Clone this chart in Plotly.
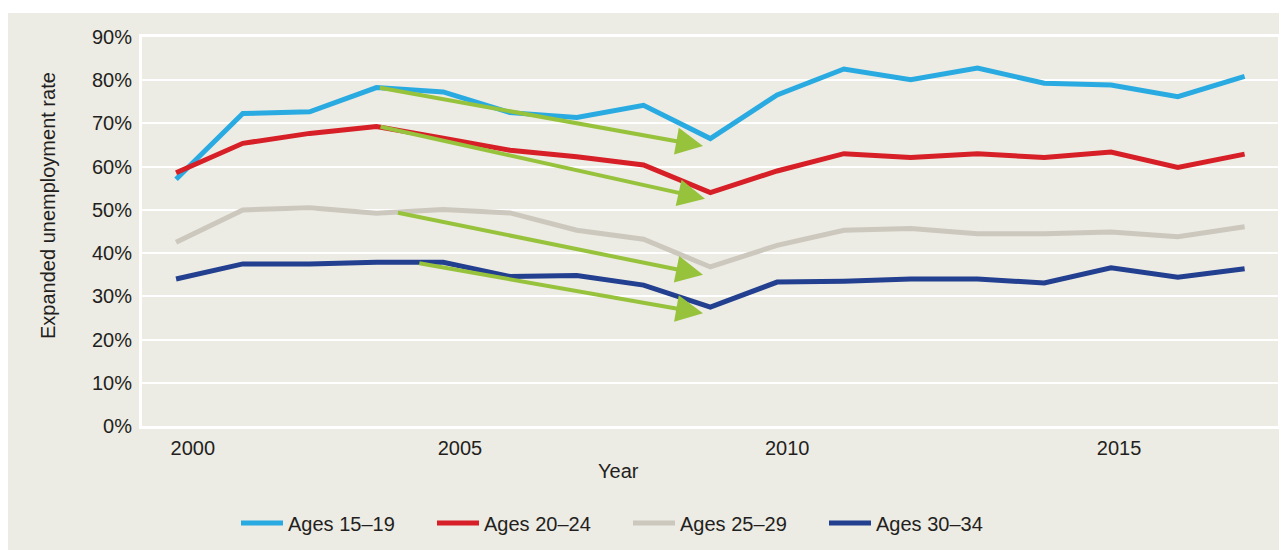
import plotly.graph_objects as go

years = list(range(2000, 2017))
ages_15_19 = [57.1, 72.3, 72.7, 78.3, 77.3, 72.5, 71.4, 74.2, 66.5, 76.6, 82.6, 80.1, 82.8, 79.3, 78.9, 76.2, 80.9]
ages_20_24 = [58.6, 65.4, 67.7, 69.3, 66.6, 63.8, 62.3, 60.4, 54.0, 59.0, 63.0, 62.1, 63.0, 62.1, 63.4, 59.8, 62.9]
ages_25_29 = [42.5, 50.0, 50.5, 49.2, 50.1, 49.3, 45.3, 43.2, 36.8, 41.8, 45.3, 45.7, 44.5, 44.5, 44.9, 43.8, 46.1]
ages_30_34 = [34.0, 37.5, 37.5, 37.9, 37.9, 34.6, 34.8, 32.6, 27.5, 33.3, 33.5, 34.0, 34.0, 33.1, 36.6, 34.4, 36.4]

series_names = ["Ages 15\u201319", "Ages 20\u201324", "Ages 25\u201329", "Ages 30\u201334"]
series_colors = ["#29ABE2", "#D71F27", "#CCC8BE", "#233F8F"]

tick_positions = [2000.25, 2004.25, 2009.15, 2014.12]
tick_labels = ["2000", "2005", "2010", "2015"]
y_ticks = list(range(0, 91, 10))

# trend arrows: start (year, value) -> tip (year, value)
arrow_start_x = [2003.03, 2003.04, 2003.30, 2003.62]
arrow_start_y = [78.3, 69.3, 49.4, 37.7]
arrow_end_x = [2007.89, 2007.92, 2007.89, 2007.89]
arrow_end_y = [64.8, 52.6, 35.0, 26.1]

BG = "#ECEBE4"
TXT = "#231F20"
FONT = "Liberation Sans, Arial, sans-serif"
FS = 20

# plot area in figure pixels (page is offset by the 8px body margin)
L, T, R, B = 134, 29, 1270, 418
W, H = R - L, B - T


def px(v):
    return (v - L) / W


def py(v):
    return (B - v) / H


fig = go.Figure()
for name, vals, col in zip(series_names, [ages_15_19, ages_20_24, ages_25_29, ages_30_34], series_colors):
    fig.add_trace(go.Scatter(x=years, y=vals, name=name, mode="lines",
                             line=dict(color=col, width=5)))

annotations = []
for sx, sy, ex, ey in zip(arrow_start_x, arrow_start_y, arrow_end_x, arrow_end_y):
    annotations.append(dict(x=ex, y=ey, ax=sx, ay=sy, xref="x", yref="y", axref="x", ayref="y",
                            text="", showarrow=True, arrowhead=2, arrowsize=1.35, arrowwidth=4,
                            arrowcolor="#97C23C", standoff=0, startstandoff=0))

annotations.append(dict(text="Year", x=px(610), y=py(463), xref="paper", yref="paper",
                        showarrow=False, font=dict(size=FS, color=TXT, family=FONT),
                        xanchor="center", yanchor="middle"))
annotations.append(dict(text="Expanded unemployment rate", x=px(40), y=py(198),
                        xref="paper", yref="paper", showarrow=False, textangle=-90,
                        font=dict(size=FS, color=TXT, family=FONT), xanchor="center", yanchor="middle"))

fig.update_layout(
    width=1287, height=550,
    margin=dict(l=L, r=1287 - R, t=T, b=550 - B),
    paper_bgcolor="white",
    plot_bgcolor=BG,
    font=dict(family=FONT, size=FS, color=TXT),
    showlegend=True,
    legend=dict(orientation="h", x=px(228), xanchor="left", y=py(515), yanchor="middle",
                bgcolor="rgba(0,0,0,0)", entrywidth=139, entrywidthmode="pixels", itemwidth=42,
                font=dict(size=FS, color=TXT, family=FONT)),
    annotations=annotations,
    shapes=[dict(type="rect", xref="paper", yref="paper",
                 x0=px(-5), x1=px(1300), y0=py(560), y1=py(5),
                 fillcolor=BG, line=dict(width=0), layer="below")],
)

fig.update_xaxes(range=[1999.49, 2016.5], tickvals=tick_positions, ticktext=tick_labels,
                 showgrid=False, zeroline=False, showline=True, mirror=True, linecolor="white", linewidth=3,
                 ticks="", ticklabelstandoff=2, tickfont=dict(size=FS, color=TXT, family=FONT))
fig.update_yaxes(range=[0, 90], tickvals=y_ticks, ticktext=[f"{v}%" for v in y_ticks],
                 showgrid=True, gridcolor="white", gridwidth=2, zeroline=False,
                 showline=True, mirror=True, linecolor="white", linewidth=3,
                 ticks="", ticklabelstandoff=3, tickfont=dict(size=FS, color=TXT, family=FONT))

fig.write_html("out.html")
